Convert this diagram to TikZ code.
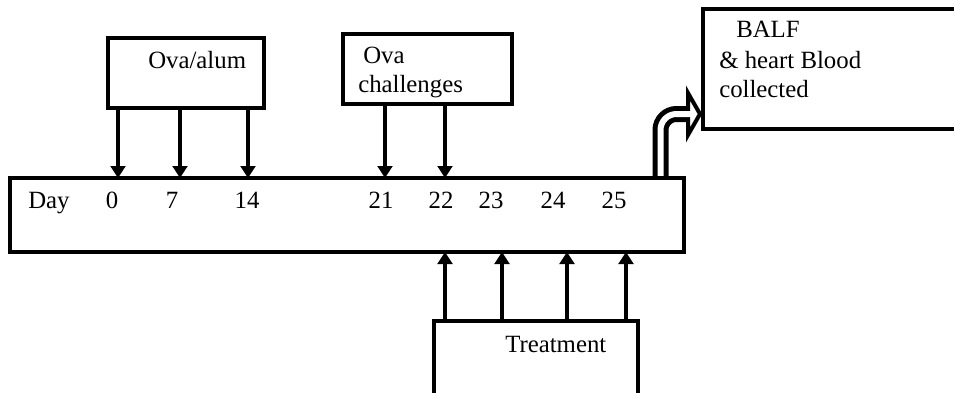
\documentclass[tikz,border=0pt]{standalone}
\usepackage{fontspec}
\setmainfont{Liberation Serif}
\usetikzlibrary{arrows.meta}
\begin{document}
\begin{tikzpicture}[x=0.75pt,y=-0.75pt,
  boxnode/.style={draw=black, line width=3.2pt, rectangle, inner sep=0pt, outer sep=0pt},
  lbl/.style={inner sep=0pt, anchor=base west, font=\fontsize{18.6}{22}\selectfont},
  daylbl/.style={inner sep=0pt, anchor=base, font=\fontsize{18.6}{22}\selectfont},
  arr/.style={line width=2.6pt, -{Triangle[width=11pt,length=9pt]}}]
\useasboundingbox (0,0) rectangle (954,393);
\clip (0,0) rectangle (954,393);
% hollow bent arrow (drawn first, the main box covers its foot)
\coordinate (s0) at (660.5,178);
\coordinate (s1) at (660.5,130);
\coordinate (s3) at (692,114);
\draw[line width=12pt, line cap=butt] (s0) -- (s1) arc[start angle=180, end angle=270, radius=16] -- (688,114);
\draw[line width=3pt, fill=white, line join=miter] (688,93) -- (700,114) -- (688,135) -- cycle;
\draw[white, line width=4.5pt, line cap=butt] (660.5,181) -- (s1) arc[start angle=180, end angle=270, radius=16] -- (s3);
% boxes
\node[boxnode, minimum width={674*0.75pt}, minimum height={74*0.75pt}] (main) at (347,215) {};
\node[boxnode, minimum width={156*0.75pt}, minimum height={70*0.75pt}] (ova) at (186,73) {};
\node[boxnode, minimum width={169*0.75pt}, minimum height={70*0.75pt}] (chal) at (427.5,69) {};
\node[boxnode, minimum width={204*0.75pt}, minimum height={100*0.75pt}] (treat) at (536,371) {};
\node[boxnode, minimum width={277*0.75pt}, minimum height={120*0.75pt}] (balf) at (841.5,69) {};
% texts
\node[lbl] (t1) at (148,68) {Ova/alum};
\node[lbl] (t2) at (363,63) {Ova};
\node[lbl] (t3) at (358,92) {challenges};
\node[lbl] (t4) at (505,352) {Treatment};
\node[lbl] (t5) at (736,37) {BALF};
\node[lbl] (t6) at (719,68) {\& heart Blood};
\node[lbl] (t7) at (719,97) {collected};
\node[lbl] (d0) at (28,208) {Day};
\foreach \x/\t/\n in {112/0/a,172/7/b,247/14/c,381/21/d,441/22/e,491/23/f,553/24/g,614/25/h}
  \node[daylbl] (day\n) at (\x,208) {\t};
% arrows from top boxes
\foreach \x/\n in {118/a,180/b,248/c}{
  \coordinate (ua\n) at (\x,0);
  \draw[arr] (ova.south -| ua\n) -- (main.north -| ua\n);
}
\foreach \x/\n in {385/a,445/b}{
  \coordinate (uc\n) at (\x,0);
  \draw[arr] (chal.south -| uc\n) -- (main.north -| uc\n);
}
% arrows from treatment
\foreach \x/\n in {445/a,502/b,567/c,626/d}{
  \coordinate (ut\n) at (\x,0);
  \draw[arr] (treat.north -| ut\n) -- (main.south -| ut\n);
}
\end{tikzpicture}
\end{document}
